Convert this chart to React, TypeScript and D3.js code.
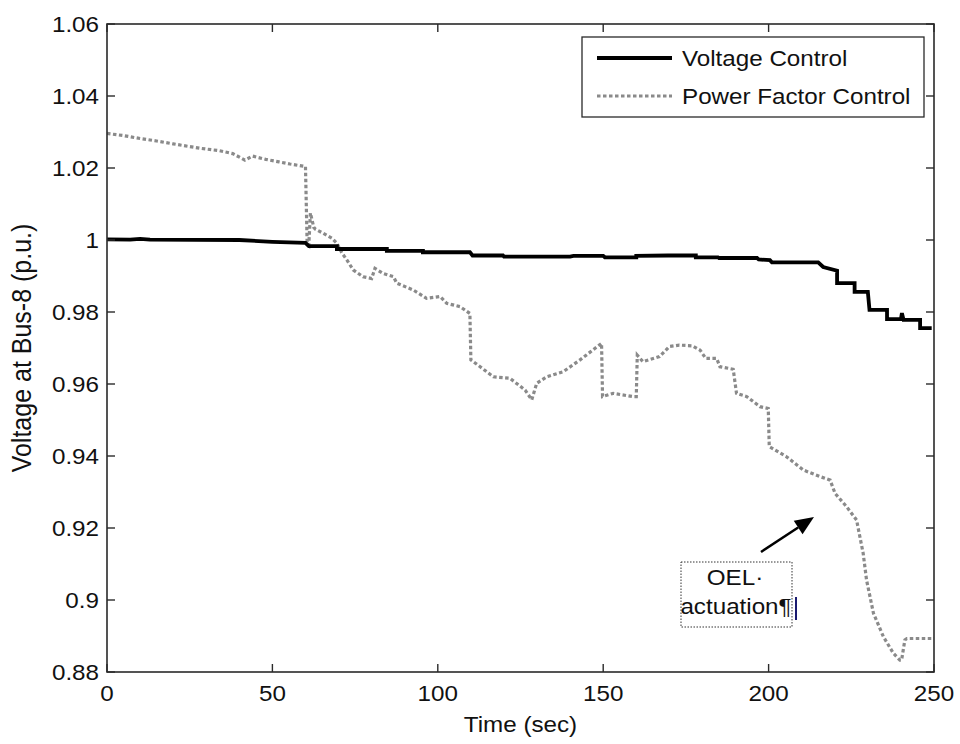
import React from "react";
import * as d3 from "d3";

const xTicks = [0, 50, 100, 150, 200, 250];
const yTicks = [0.88, 0.9, 0.92, 0.94, 0.96, 0.98, 1, 1.02, 1.04, 1.06];

const vcTime = [0, 7, 10, 13, 40, 50, 60, 61, 69.5, 69.5, 84.6, 84.6, 95.5, 95.5, 109.7, 110.5, 119.7, 120, 140, 141, 150, 150.5, 160, 160, 169.6, 178, 178, 184.7, 185, 196.5, 197, 200.4, 201, 215, 216.5, 220.7, 220.7, 226, 226, 230, 230.5, 235.8, 235.8, 240, 240.3, 240.8, 245.8, 245.8, 249.3];
const vcValue = [1.0002, 1.0001, 1.0003, 1.0001, 1.0, 0.9995, 0.9992, 0.9983, 0.9983, 0.9975, 0.9975, 0.997, 0.997, 0.9966, 0.9966, 0.9957, 0.9957, 0.9954, 0.9954, 0.9956, 0.9956, 0.9952, 0.9952, 0.9956, 0.9957, 0.9957, 0.9952, 0.9952, 0.995, 0.995, 0.9946, 0.9944, 0.9938, 0.9938, 0.9925, 0.9915, 0.988, 0.988, 0.9856, 0.9856, 0.9806, 0.9806, 0.978, 0.978, 0.9797, 0.9778, 0.9778, 0.9755, 0.9755];

const pfTime = [0, 5, 10, 15, 20, 28, 34, 38, 41.7, 44, 48, 52, 55.3, 60, 60.5, 61, 61.5, 62.5, 63, 65.3, 68, 69.5, 71, 72.5, 74.4, 77.4, 80, 81, 83.5, 86.6, 87.6, 92.6, 96.6, 100.7, 102.7, 106.7, 109.7, 110, 112.8, 116.8, 121.8, 126.4, 128.4, 129.9, 132.9, 137.9, 143, 149.5, 149.8, 153, 159, 160, 160.3, 162, 167, 170, 173, 177, 179.3, 181, 184.3, 185.3, 189.3, 190.3, 193.4, 197.4, 199.9, 200.2, 205.4, 210.5, 215.5, 218.6, 220.1, 223.6, 226.6, 228.6, 229.6, 231.7, 234.7, 237.7, 239.7, 240.2, 241.2, 241.8, 250];
const pfValue = [1.0296, 1.029, 1.0282, 1.0275, 1.0267, 1.0255, 1.0248, 1.024, 1.0222, 1.0233, 1.0224, 1.0217, 1.0211, 1.0204, 0.999, 0.9985, 1.0075, 1.0035, 1.003, 1.0019, 1.0005, 0.9991, 0.9964, 0.9945, 0.9917, 0.9898, 0.9893, 0.9921, 0.9907, 0.9898, 0.988, 0.9861, 0.9838, 0.9843, 0.9824, 0.9815, 0.9796, 0.9667, 0.9648, 0.962, 0.9616, 0.9583, 0.9556, 0.9602, 0.962, 0.9634, 0.9667, 0.9713, 0.9565, 0.9574, 0.9565, 0.9565, 0.968, 0.9662, 0.9676, 0.9704, 0.9708, 0.9706, 0.9694, 0.9671, 0.9671, 0.9648, 0.9641, 0.9574, 0.9565, 0.9537, 0.9532, 0.9426, 0.9398, 0.9361, 0.9343, 0.9333, 0.9296, 0.9259, 0.9222, 0.9129, 0.9056, 0.8963, 0.8898, 0.8852, 0.8833, 0.8833, 0.8889, 0.8893, 0.8893];

const seriesNames = ["Voltage Control", "Power Factor Control"];
const xLabel = "Time (sec)";
const yLabel = "Voltage at Bus-8 (p.u.)";
const noteLines = ["OEL·", "actuation¶"];

const W = 960;
const H = 744;
const L = 107, R = 934, T = 24, B = 672;
const FONT = "'Liberation Sans', Arial, sans-serif";
const SX = 1.1;

function Txt({ x, y, anchor = "start", size = 22, children, fill = "#111", rotate = 0 }: any) {
  return (
    <text
      transform={`translate(${x},${y}) scale(${SX},1)${rotate ? ` rotate(${rotate})` : ""}`}
      textAnchor={anchor}
      fontFamily={FONT}
      fontSize={size}
      fill={fill}
    >
      {children}
    </text>
  );
}

export default function App() {
  const x = d3.scaleLinear().domain([0, 250]).range([L, R]);
  const y = d3.scaleLinear().domain([0.88, 1.06]).range([B, T]);
  const line = d3
    .line<[number, number]>()
    .x((d) => x(d[0]))
    .y((d) => y(d[1]));
  const vc = vcTime.map((t, i) => [t, vcValue[i]] as [number, number]);
  const pf = pfTime.map((t, i) => [t, pfValue[i]] as [number, number]);
  const tick = 8;
  const axisColor = "#2a2a2a";

  // annotation arrow
  const ax0 = 761, ay0 = 552, ax1 = 814, ay1 = 517;
  const ang = Math.atan2(ay1 - ay0, ax1 - ax0);
  const hl = 19, hw = 8;
  const bx = ax1 - hl * Math.cos(ang), by = ay1 - hl * Math.sin(ang);
  const head = [
    [ax1, ay1],
    [bx + hw * Math.sin(ang), by - hw * Math.cos(ang)],
    [bx - hw * Math.sin(ang), by + hw * Math.cos(ang)],
  ];

  return (
    <svg width={W} height={H} style={{ position: "absolute", left: 0, top: 0, background: "#fff" }}>
      <rect x={0} y={0} width={W} height={H} fill="#fff" />
      <defs>
        <clipPath id="plot">
          <rect x={L} y={T} width={R - L} height={B - T} />
        </clipPath>
      </defs>

      {/* series */}
      <g clipPath="url(#plot)">
        <path d={line(pf) || ""} fill="none" stroke="#8a8a8a" strokeWidth={3.2} strokeDasharray="3.5,2.5" />
        <path d={line(vc) || ""} fill="none" stroke="#000" strokeWidth={3.8} strokeLinejoin="miter" />
      </g>

      {/* axes box */}
      <rect x={L} y={T} width={R - L} height={B - T} fill="none" stroke={axisColor} strokeWidth={1.6} />
      {xTicks.map((t) => (
        <g key={"xt" + t}>
          <line x1={x(t)} x2={x(t)} y1={B} y2={B - tick} stroke={axisColor} strokeWidth={1.4} />
          <line x1={x(t)} x2={x(t)} y1={T} y2={T + tick} stroke={axisColor} strokeWidth={1.4} />
          <Txt x={x(t)} y={B + 29} anchor="middle">{String(t)}</Txt>
        </g>
      ))}
      {yTicks.map((v) => (
        <g key={"yt" + v}>
          <line x1={L} x2={L + tick} y1={y(v)} y2={y(v)} stroke={axisColor} strokeWidth={1.4} />
          <line x1={R} x2={R - tick} y1={y(v)} y2={y(v)} stroke={axisColor} strokeWidth={1.4} />
          <Txt x={L - 8} y={y(v) + 8} anchor="end">{String(v)}</Txt>
        </g>
      ))}

      {/* axis labels */}
      <Txt x={(L + R) / 2} y={732} anchor="middle">{xLabel}</Txt>
      <Txt x={31} y={(T + B) / 2} anchor="middle" size={25} rotate={-90}>{yLabel}</Txt>

      {/* legend */}
      <rect x={582} y={37} width={342} height={80} fill="#fff" stroke={axisColor} strokeWidth={1.3} />
      <line x1={597} x2={672} y1={58} y2={58} stroke="#000" strokeWidth={3.8} />
      <Txt x={682} y={66}>{seriesNames[0]}</Txt>
      <line x1={597} x2={672} y1={96} y2={96} stroke="#8a8a8a" strokeWidth={3.2} strokeDasharray="3.5,2.5" />
      <Txt x={682} y={104}>{seriesNames[1]}</Txt>

      {/* annotation */}
      <line x1={ax0} y1={ay0} x2={bx} y2={by} stroke="#000" strokeWidth={2.5} />
      <polygon points={head.map((p) => p.join(",")).join(" ")} fill="#000" />
      <rect x={681} y={562} width={111} height={65} fill="none" stroke="#333" strokeWidth={1} strokeDasharray="1.5,1.5" />
      <Txt x={735} y={585} anchor="middle">{noteLines[0]}</Txt>
      <Txt x={736} y={614} anchor="middle">{noteLines[1]}</Txt>
      <line x1={796} x2={796} y1={597} y2={620} stroke="#1a1a70" strokeWidth={2} />
    </svg>
  );
}
